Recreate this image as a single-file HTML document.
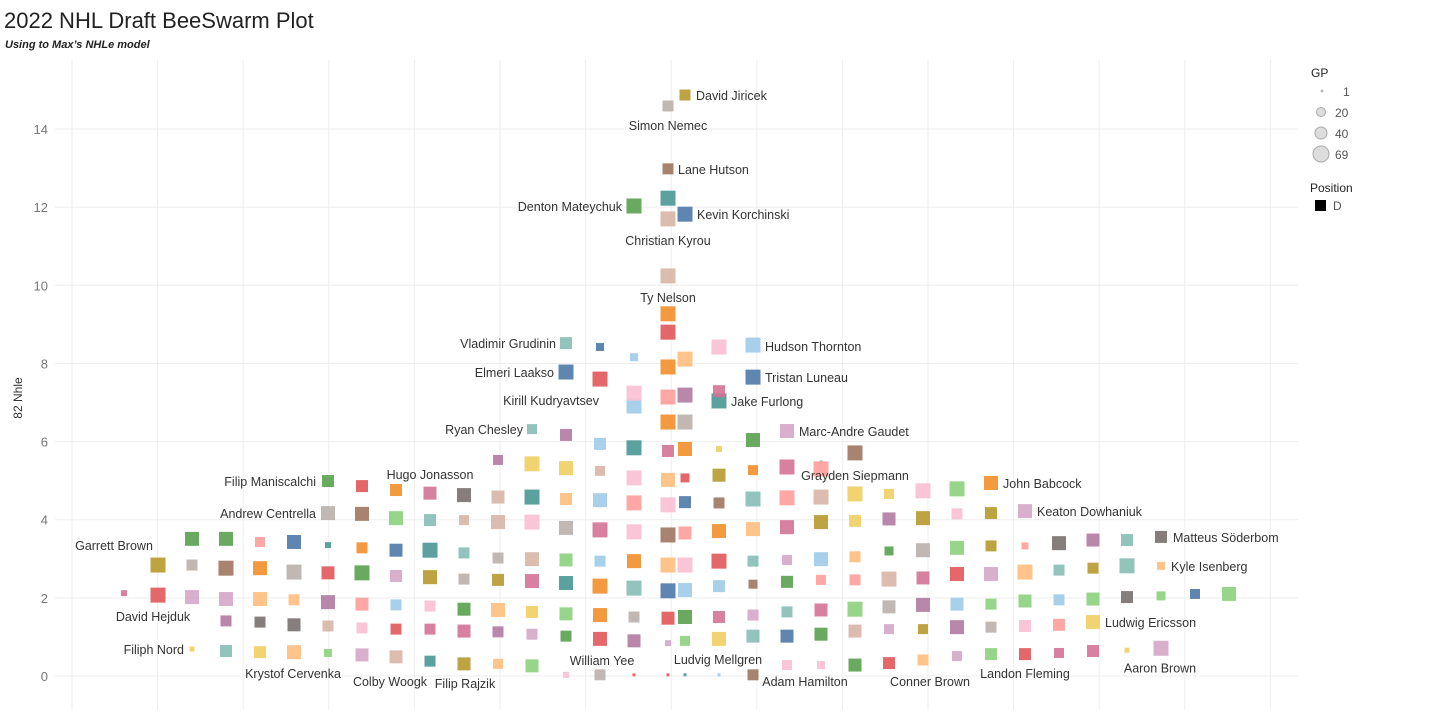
<!DOCTYPE html>
<html><head><meta charset="utf-8">
<style>
body{margin:0;background:#fff;width:1456px;height:710px;overflow:hidden;font-family:"Liberation Sans",sans-serif;}
svg text{font-family:"Liberation Sans",sans-serif;}
</style></head>
<body>
<svg id="chart" width="1456" height="710" xmlns="http://www.w3.org/2000/svg">
<text x="4" y="28" font-size="22" fill="#222">2022 NHL Draft BeeSwarm Plot</text>
<text x="5" y="48" font-size="11" font-weight="bold" font-style="italic" fill="#222">Using to Max’s NHLe model</text>
<g id="grid"></g>
<g id="yaxis"></g>
<text transform="translate(22,398) rotate(-90)" font-size="12" fill="#333" text-anchor="middle">82 Nhle</text>
<g id="marks"></g>
<g id="labels"></g>
<g>
<text x="1311" y="77" font-size="12" fill="#222">GP</text>
<circle cx="1322" cy="91" r="1.5" fill="#bbb"/>
<text x="1343" y="96" font-size="12" fill="#555">1</text>
<circle cx="1321" cy="112" r="4.5" fill="#ddd" stroke="#aaa"/>
<text x="1335" y="117" font-size="12" fill="#555">20</text>
<circle cx="1321" cy="133" r="6" fill="#ddd" stroke="#aaa"/>
<text x="1335" y="138" font-size="12" fill="#555">40</text>
<circle cx="1321" cy="154" r="8" fill="#ddd" stroke="#aaa"/>
<text x="1335" y="159" font-size="12" fill="#555">69</text>
<text x="1310" y="192" font-size="12" fill="#222">Position</text>
<rect x="1315" y="200" width="11" height="11" fill="#000"/>
<text x="1333" y="210" font-size="12" fill="#555">D</text>
</g>
</svg>
<script>
const yTicks=[0,2,4,6,8,10,12,14];
// top / sparse points (explicit swarm columns)
const spCols=[0.5,0,0,-1,0.5,0,0,0,0,0,-1,1.5,0,0.5];
const spVals=[14.87,14.59,12.98,12.03,11.82,12.23,11.7,10.24,9.27,8.8,6.91,7.04,6.5,6.5];
const spSizes=[11,11,11,15,15,15,15,15,15,15,15,15,15,15];
const spColors="VkNGBTnnORbTOk";
// swarm rows: start column + consecutive values
const rowStart=[-3,-3,-4,-5,-10,-10,-14,-15,-16,-13,-14];
const r84=[8.52,8.42,8.16,7.91,8.11,8.42,8.47];
const r76=[7.78,7.6,7.24,7.14,7.19,7.29,7.65];
const r60=[6.32,6.17,5.94,5.84,5.76,5.81,5.81,6.04,6.27,5.48,5.71];
const r53=[5.53,5.43,5.32,5.25,5.07,5.02,5.07,5.14,5.27,5.35,5.3];
const r46=[4.99,4.86,4.76,4.68,4.63,4.58,4.58,4.53,4.5,4.43,4.38,4.45,4.43,4.53,4.56,4.58,4.66,4.66,4.74,4.79,4.94];
const r40=[4.17,4.15,4.04,3.99,3.99,3.94,3.94,3.79,3.74,3.69,3.61,3.66,3.71,3.76,3.81,3.94,3.97,4.02,4.04,4.15,4.17,4.22];
const r33=[3.51,3.51,3.43,3.43,3.35,3.28,3.22,3.22,3.15,3.02,2.99,2.97,2.94,2.94,2.84,2.84,2.94,2.94,2.97,2.99,3.05,3.2,3.22,3.28,3.33,3.33,3.4,3.48,3.48,3.56];
const r26=[2.84,2.84,2.76,2.76,2.66,2.64,2.64,2.56,2.53,2.48,2.46,2.43,2.38,2.3,2.25,2.18,2.2,2.3,2.35,2.41,2.46,2.46,2.48,2.51,2.61,2.61,2.66,2.71,2.76,2.82,2.82];
const r20=[2.12,2.07,2.02,1.97,1.97,1.95,1.89,1.84,1.82,1.79,1.71,1.69,1.64,1.59,1.56,1.51,1.48,1.51,1.51,1.56,1.64,1.69,1.71,1.77,1.82,1.84,1.84,1.92,1.95,1.97,2.02,2.05,2.1,2.1];
const r12=[1.41,1.38,1.31,1.28,1.23,1.2,1.2,1.15,1.13,1.07,1.02,0.95,0.9,0.84,0.9,0.95,1.02,1.02,1.07,1.15,1.2,1.2,1.25,1.25,1.28,1.31,1.38];
const r05=[0.69,0.64,0.61,0.61,0.59,0.54,0.49,0.38,0.31,0.31,0.26,0.03,0.03,0.03,0.03,0.03,0.03,0.03,0.28,0.28,0.28,0.33,0.41,0.51,0.56,0.56,0.59,0.64,0.66,0.71];
// styling (not data)
const rowSizes=[
[12,8,8,15,15,15,15],
[15,15,15,15,15,12,15],
[10,12,12,15,12,14,6,14,14,3,15],
[10,15,14,10,15,14,9,13,10,15,15],
[12,12,12,13,14,13,15,12,14,15,15,12,11,15,15,15,15,10,15,15,14],
[14,14,14,12,10,14,15,14,15,15,15,13,14,14,14,14,12,13,14,11,12,14],
[14,14,10,14,6,11,13,15,11,11,14,13,11,14,15,15,15,11,10,14,11,9,14,14,11,7,14,13,12,12],
[15,11,15,14,15,13,15,12,14,11,12,14,14,15,15,15,14,12,9,12,10,11,15,13,14,14,15,11,11,15,8],
[6,15,14,14,14,11,14,13,11,11,13,14,12,13,14,11,13,14,12,11,11,13,15,13,14,13,11,13,11,13,12,9,10,14],
[11,11,13,11,11,11,11,13,11,11,11,14,13,6,10,14,13,13,13,13,10,10,14,11,12,12,14],
[5,12,12,14,8,13,13,11,13,10,13,6,11,3,3,3,3,11,10,8,13,12,11,10,12,12,10,12,5,15]];
const rowColors=["tBbOomb","BRmrPMB","tPbTMOYGptN","PYYnmoRVOMr","GROMKnTobrmBNtrnYYmgO","kNgtnnmkMmNrOoMVYPVmVp","GGrBTOBTtkngbOomRtpboGkgVrKPtK","VkNOkRGpVkVMTOtBbbNGrrnMRpotVto","MRppooPrbmGoYgOkRGMptMgkPbggbgKgBg","PKKnmRMMPpGRPpgYtBGnpVPkmrY","YtYogpnTVogmkRRTbNmmGRopgRMMYp"];
const palette={B:"#4e79a7",b:"#a0cbe8",O:"#f28e2b",o:"#ffbe7d",G:"#59a14f",g:"#8cd17d",V:"#b6992d",Y:"#f1ce63",T:"#499894",t:"#86bcb6",R:"#e15759",r:"#ff9d9a",K:"#79706e",k:"#bab0ac",M:"#d37295",m:"#fabfd2",P:"#b07aa1",p:"#d4a6c8",N:"#9d7660",n:"#d7b5a6"};
const rows=[r84,r76,r60,r53,r46,r40,r33,r26,r20,r12,r05];
// labels: row (-1 = sparse, key = index) else key = column
const labelRow=[-1,-1,-1,-1,-1,-1,-1,0,0,1,1,-1,-1,2,2,2,4,4,4,5,5,6,7,7,8,9,10,10,10,10,10,10,10,10,10,10];
const labelKey=[0,1,2,3,4,6,7,-3,2.5,-3,2.5,10,11,-4,3.5,4.5,-10,-7,9.5,-10,10.5,14.5,-15,14.5,-15,12.5,-14,14.5,-11,-8,-6,-2,1.5,3.5,7.5,10.5];
const labelText=["David Jiricek","Simon Nemec","Lane Hutson","Denton Mateychuk","Kevin Korchinski","Christian Kyrou","Ty Nelson","Vladimir Grudinin","Hudson Thornton","Elmeri Laakso","Tristan Luneau","Kirill Kudryavtsev","Jake Furlong","Ryan Chesley","Marc-Andre Gaudet","Grayden Siepmann","Filip Maniscalchi","Hugo Jonasson","John Babcock","Andrew Centrella","Keaton Dowhaniuk","Matteus Söderbom","Garrett Brown","Kyle Isenberg","David Hejduk","Ludwig Ericsson","Filiph Nord","Aaron Brown","Krystof Cervenka","Colby Woogk","Filip Rajzik","William Yee","Ludvig Mellgren","Adam Hamilton","Conner Brown","Landon Fleming"];
const labelDx=[11,0,10,-12,12,0,0,-10,12,-12,12,-35,12,-9,12,34,-12,0,12,-12,12,12,-44,10,-5,12,-8,-1,-1,-6,1,2,-1,18,7,0];
const labelDy=[5,24,5,5,5,26,26,5,6,5,5,-1,5,5,5,18,5,-14,5,5,5,5,-15,5,26,5,5,24,26,29,24,-10,-11,21,26,24];
const labelAnchor=["start","middle","start","end","start","middle","middle","end","start","end","start","end","start","end","start","middle","end","middle","start","end","start","start","middle","start","middle","start","end","middle","middle","middle","middle","middle","middle","middle","middle","middle"];

const NS="http://www.w3.org/2000/svg";
const y0=676, pxPerUnit=39.07, cx0=668, colW=34;
function yScale(v){return y0-v*pxPerUnit;}
function xScale(c){return cx0+c*colW;}
function nextCol(c){return c===0?0.5:c+1;}
const grid=document.getElementById('grid'),yaxis=document.getElementById('yaxis'),marks=document.getElementById('marks'),labels=document.getElementById('labels');
for(let i=0;i<15;i++){
  const l=document.createElementNS(NS,'line');
  
  
  const x=72+i*85.6;
  l.setAttribute('x1',x);l.setAttribute('x2',x);l.setAttribute('y1',60);l.setAttribute('y2',710);
  l.setAttribute('stroke','#eeeeee');grid.appendChild(l);
}
yTicks.forEach(t=>{
  const l=document.createElementNS(NS,'line');
  
  
  l.setAttribute('x1',55);l.setAttribute('x2',1298);l.setAttribute('y1',yScale(t));l.setAttribute('y2',yScale(t));
  l.setAttribute('stroke','#eeeeee');grid.appendChild(l);
  const tx=document.createElementNS(NS,'text');
  
  
  tx.setAttribute('x',48);tx.setAttribute('y',yScale(t)+5);tx.setAttribute('text-anchor','end');
  tx.setAttribute('font-size','13');tx.setAttribute('fill','#777');tx.textContent=t;yaxis.appendChild(tx);
});
function drawPoint(c,v,s,col){
  const r=document.createElementNS(NS,'rect');
  
  
  r.setAttribute('x',xScale(c)-s/2);r.setAttribute('y',yScale(v)-s/2);
  r.setAttribute('width',s);r.setAttribute('height',s);
  r.setAttribute('fill',palette[col]||"#bab0ac");r.setAttribute('fill-opacity','0.9');
  marks.appendChild(r);
  return {x:xScale(c),y:yScale(v)};
}
const spPos=[];
for(let i=0;i<spVals.length;i++) spPos.push(drawPoint(spCols[i],spVals[i],spSizes[i],spColors[i]));
const rowPos=[];
rows.forEach((vals,ri)=>{
  const m={};let c=rowStart[ri];
  for(let i=0;i<vals.length;i++){
    m[c]=drawPoint(c,vals[i],rowSizes[ri][i]||12,rowColors[ri][i]);
    c=nextCol(c);
  }
  rowPos.push(m);
});
for(let k=0;k<labelText.length;k++){
  const p=labelRow[k]<0?spPos[labelKey[k]]:rowPos[labelRow[k]][labelKey[k]];
  if(!p)continue;
  const t=document.createElementNS(NS,'text');
  
  
  t.setAttribute('x',p.x+labelDx[k]);t.setAttribute('y',p.y+labelDy[k]);
  t.setAttribute('text-anchor',labelAnchor[k]);t.setAttribute('font-size','12.5');t.setAttribute('fill','#333');
  t.textContent=labelText[k];labels.appendChild(t);
}
</script>
</body></html>
